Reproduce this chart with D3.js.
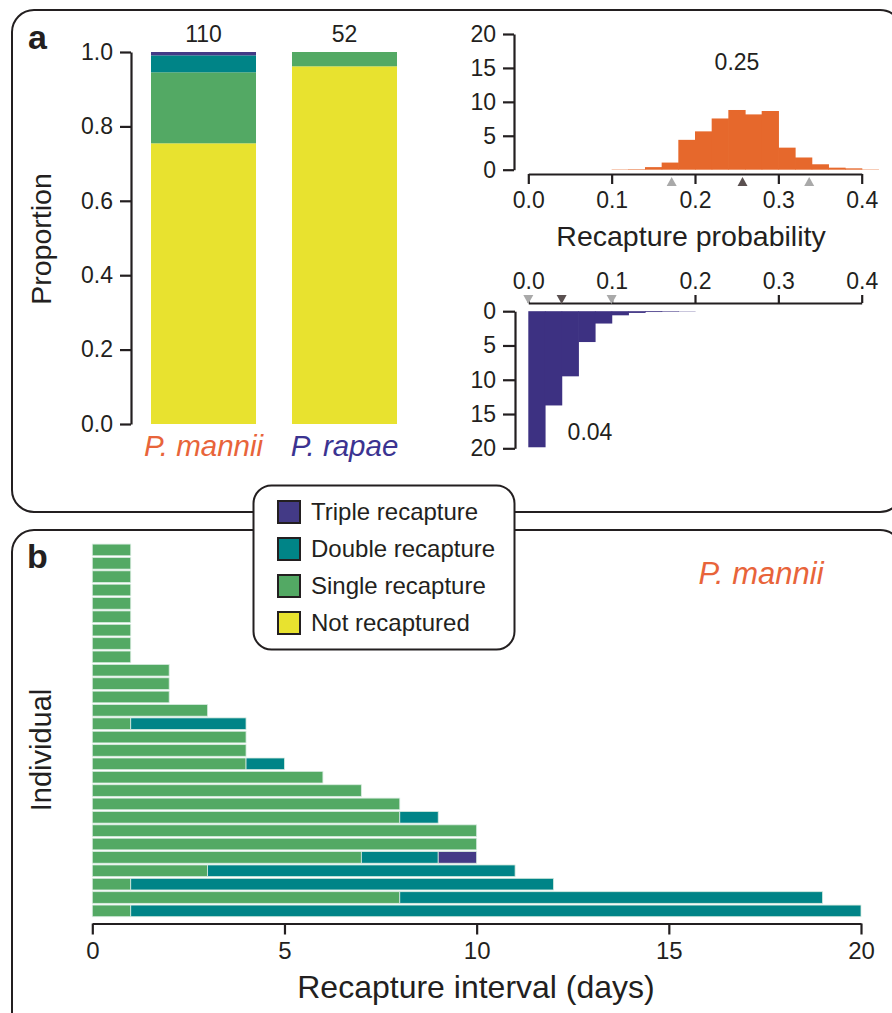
<!DOCTYPE html>
<html>
<head>
<meta charset="utf-8">
<script src="https://cdn.jsdelivr.net/npm/d3@7"></script>
<style>
  html, body { margin: 0; padding: 0; background: #fff; }
  svg text { font-family: "Liberation Sans", Arial, sans-serif; fill: #231f20; }
</style>
</head>
<body>
<svg id="chart" width="892" height="1013"></svg>
<script>
// ---------------- DATA ----------------
const species = ["P. mannii", "P. rapae"];
const speciesTotals = [110, 52];
const categories = ["Not recaptured", "Single recapture", "Double recapture", "Triple recapture"];
const countsMannii = [83, 21, 5, 1];
const countsRapae = [50, 2, 0, 0];
const propTicks = [0, 0.2, 0.4, 0.6, 0.8, 1.0];

// posterior histogram of recapture probability (P. mannii), bins of width 0.02
const binStartsMannii = [0.10, 0.12, 0.14, 0.16, 0.18, 0.20, 0.22, 0.24, 0.26, 0.28, 0.30, 0.32, 0.34, 0.36, 0.38, 0.40];
const freqMannii =      [0.05, 0.08, 0.38, 1.05, 4.4, 5.65, 7.55, 8.8, 8.15, 8.65, 3.25, 1.8, 0.8, 0.3, 0.2, 0.05];
const triMannii = [0.172, 0.257, 0.337]; // lower, median, upper
const medianMannii = "0.25";

// posterior histogram of recapture probability (P. rapae)
const binStartsRapae = [0.00, 0.02, 0.04, 0.06, 0.08, 0.10, 0.12, 0.14, 0.16, 0.18];
const freqRapae =      [19.85, 13.75, 9.5, 4.5, 1.8, 0.6, 0.25, 0.12, 0.08, 0.04];
const triRapae = [0.0, 0.04, 0.1];
const medianRapae = "0.04";
const probTicks = [0, 0.1, 0.2, 0.3, 0.4];
const freqTicks = [0, 5, 10, 15, 20];

// recapture intervals (days) per individual: 1st, 2nd, 3rd recapture (cumulative)
const firstRecap =  [1,1,1,1,1,1,1,1,1, 2,2,2, 3, 1, 4, 4, 4, 6, 7, 8, 8, 10, 10, 7, 3, 1, 8, 1];
const secondRecap = [null,null,null,null,null,null,null,null,null, null,null,null, null, 4, null, null, 5, null, null, null, 9, null, null, 9, 11, 12, 19, 20];
const thirdRecap =  [null,null,null,null,null,null,null,null,null, null,null,null, null, null, null, null, null, null, null, null, null, null, null, 10, null, null, null, null];
const dayTicks = [0, 5, 10, 15, 20];

// ---------------- STYLE ----------------
const colors = {
  "Not recaptured": "#e8e22f",
  "Single recapture": "#53a964",
  "Double recapture": "#008487",
  "Triple recapture": "#433a86"
};
const ink = "#231f20";
const orange = "#e6682c";
const blue = "#3d3182";

const svg = d3.select("#chart");

// panel frames
function roundedPanel(x, y, w, h, r) {
  svg.append("rect").attr("x", x).attr("y", y).attr("width", w).attr("height", h)
    .attr("rx", r).attr("ry", r).attr("fill", "none").attr("stroke", ink).attr("stroke-width", 2);
}
roundedPanel(12, 10, 890, 502, 22);
roundedPanel(12, 530, 890, 510, 22);

svg.append("text").attr("x", 28).attr("y", 49).attr("font-size", 34).attr("font-weight", "bold").text("a");
svg.append("text").attr("x", 27).attr("y", 568).attr("font-size", 34).attr("font-weight", "bold").text("b");

function styleAxis(g) {
  g.selectAll("path, line").attr("stroke", ink).attr("stroke-width", 2.2);
  g.selectAll("text").attr("fill", ink).attr("font-family", "Liberation Sans, Arial, sans-serif");
}

// ---------------- PANEL a: stacked proportions ----------------
const xSp = d3.scaleBand().domain(species).range([133, 415]).paddingInner(0.2553).paddingOuter(0.1277);
const yProp = d3.scaleLinear().domain([0, 1]).range([424, 52]);

const stackRows = species.map((s, i) => {
  const counts = i === 0 ? countsMannii : countsRapae;
  const row = { species: s };
  categories.forEach((c, j) => row[c] = counts[j] / speciesTotals[i]);
  return row;
});
const stacked = d3.stack().keys(categories)(stackRows);

svg.append("g").selectAll("g").data(stacked).join("g")
  .attr("fill", d => colors[d.key])
  .selectAll("rect").data(d => d).join("rect")
  .attr("x", d => xSp(d.data.species))
  .attr("width", xSp.bandwidth())
  .attr("y", d => yProp(d[1]))
  .attr("height", d => Math.max(0, yProp(d[0]) - yProp(d[1])));

const gyProp = svg.append("g").attr("transform", "translate(131,0)")
  .call(d3.axisLeft(yProp).tickValues(propTicks).tickFormat(d3.format(".1f")).tickSize(11).tickSizeOuter(0).tickPadding(7));
styleAxis(gyProp);
gyProp.selectAll("text").attr("font-size", 23);

svg.append("g").selectAll("text").data(species).join("text")
  .attr("x", d => xSp(d) + xSp.bandwidth() / 2).attr("y", 42)
  .attr("text-anchor", "middle").attr("font-size", 23)
  .text((d, i) => speciesTotals[i]);

svg.append("g").selectAll("text").data(species).join("text")
  .attr("x", d => xSp(d) + xSp.bandwidth() / 2).attr("y", 456)
  .attr("text-anchor", "middle").attr("font-size", 29.5).attr("font-style", "italic")
  .style("fill", (d, i) => i === 0 ? "#e8643a" : "#3b3391")
  .text(d => d);

svg.append("text").attr("transform", "translate(51,239) rotate(-90)")
  .attr("text-anchor", "middle").attr("font-size", 28.5).text("Proportion");

// ---------------- PANEL a: histogram P. mannii ----------------
const xProb = d3.scaleLinear().domain([0, 0.4]).range([528.3, 861.7]);
const yFreqTop = d3.scaleLinear().domain([0, 20]).range([169.7, 34]);

svg.append("g").selectAll("rect").data(binStartsMannii).join("rect")
  .attr("x", d => xProb(d)).attr("width", d => xProb(d + 0.02) - xProb(d) + 0.6)
  .attr("y", (d, i) => yFreqTop(freqMannii[i]))
  .attr("height", (d, i) => yFreqTop(0) - yFreqTop(freqMannii[i]))
  .attr("fill", orange);

const gxTop = svg.append("g").attr("transform", "translate(0,174)")
  .call(d3.axisBottom(xProb).tickValues(probTicks).tickFormat(d3.format(".1f")).tickSize(10).tickSizeOuter(0).tickPadding(8));
styleAxis(gxTop);
gxTop.selectAll("text").attr("font-size", 23);

const gyTop = svg.append("g").attr("transform", "translate(514,0)")
  .call(d3.axisLeft(yFreqTop).tickValues(freqTicks).tickSize(11).tickSizeOuter(0).tickPadding(7));
styleAxis(gyTop);
gyTop.selectAll("text").attr("font-size", 23);

svg.append("g").selectAll("path").data(triMannii).join("path")
  .attr("d", d => `M${xProb(d) - 5},186 L${xProb(d) + 5},186 L${xProb(d)},177 Z`)
  .attr("fill", (d, i) => i === 1 ? "#5a5050" : "#a9a9a9");

svg.append("text").attr("x", 737).attr("y", 70).attr("text-anchor", "middle").attr("font-size", 23).text(medianMannii);
svg.append("text").attr("x", 691).attr("y", 246).attr("text-anchor", "middle").attr("font-size", 28.5).text("Recapture probability");

// ---------------- PANEL a: histogram P. rapae (inverted) ----------------
const yFreqBot = d3.scaleLinear().domain([0, 20]).range([311.2, 448.3]);

svg.append("g").selectAll("rect").data(binStartsRapae).join("rect")
  .attr("x", d => xProb(d)).attr("width", d => xProb(d + 0.02) - xProb(d) + 0.6)
  .attr("y", yFreqBot(0))
  .attr("height", (d, i) => yFreqBot(freqRapae[i]) - yFreqBot(0))
  .attr("fill", blue);

const gxBot = svg.append("g").attr("transform", "translate(0,303)")
  .call(d3.axisTop(xProb).tickValues(probTicks).tickFormat(d3.format(".1f")).tickSize(8).tickSizeOuter(0).tickPadding(6));
styleAxis(gxBot);
gxBot.selectAll("text").attr("font-size", 23);

const gyBot = svg.append("g").attr("transform", "translate(515,0)")
  .call(d3.axisLeft(yFreqBot).tickValues(freqTicks).tickSize(12).tickSizeOuter(0).tickPadding(7));
styleAxis(gyBot);
gyBot.selectAll("text").attr("font-size", 23);

svg.append("g").selectAll("path").data(triRapae).join("path")
  .attr("d", d => `M${xProb(d) - 5},295 L${xProb(d) + 5},295 L${xProb(d)},304 Z`)
  .attr("fill", (d, i) => i === 1 ? "#5a5050" : "#a9a9a9");

svg.append("text").attr("x", 590).attr("y", 440).attr("text-anchor", "middle").attr("font-size", 23).text(medianRapae);

// ---------------- PANEL b: recapture intervals ----------------
const xDays = d3.scaleLinear().domain([0, 20]).range([92.3, 861]);
const yInd = d3.scaleBand().domain(d3.range(firstRecap.length)).range([543.3, 917.5]).paddingInner(0.13).paddingOuter(0.06);

const segs = [];
firstRecap.forEach((v, i) => {
  segs.push({ row: i, x0: 0, x1: v, key: "Single recapture" });
  if (secondRecap[i] != null) segs.push({ row: i, x0: v, x1: secondRecap[i], key: "Double recapture" });
  if (thirdRecap[i] != null) segs.push({ row: i, x0: secondRecap[i], x1: thirdRecap[i], key: "Triple recapture" });
});

svg.append("g").selectAll("rect").data(segs).join("rect")
  .attr("x", d => xDays(d.x0)).attr("width", d => xDays(d.x1) - xDays(d.x0))
  .attr("y", d => yInd(d.row)).attr("height", yInd.bandwidth())
  .attr("fill", d => colors[d.key])
  .attr("stroke", "#d8ebe0").attr("stroke-width", 0.8);

const gxDays = svg.append("g").attr("transform", "translate(0,923.5)")
  .call(d3.axisBottom(xDays).tickValues(dayTicks).tickFormat(d3.format("d")).tickSize(11).tickSizeOuter(0).tickPadding(7));
styleAxis(gxDays);
gxDays.selectAll("text").attr("font-size", 24);

svg.append("text").attr("x", 476).attr("y", 998).attr("text-anchor", "middle").attr("font-size", 32).text("Recapture interval (days)");
svg.append("text").attr("transform", "translate(51,750) rotate(-90)").attr("text-anchor", "middle").attr("font-size", 29).text("Individual");
svg.append("text").attr("x", 761).attr("y", 584).attr("text-anchor", "middle").attr("font-size", 31)
  .attr("font-style", "italic").style("fill", "#e8643a").text("P. mannii");

// ---------------- Legend ----------------
const legendKeys = ["Triple recapture", "Double recapture", "Single recapture", "Not recaptured"];
svg.append("rect").attr("x", 253.5).attr("y", 485.5).attr("width", 261).attr("height", 164)
  .attr("rx", 18).attr("ry", 18).attr("fill", "#fff").attr("stroke", ink).attr("stroke-width", 2);
const lg = svg.append("g").selectAll("g").data(legendKeys).join("g")
  .attr("transform", (d, i) => `translate(278,${501 + i * 37})`);
lg.append("rect").attr("width", 22).attr("height", 22).attr("fill", d => colors[d])
  .attr("stroke", ink).attr("stroke-width", 2);
lg.append("text").attr("x", 33).attr("y", 19).attr("font-size", 24).text(d => d);
</script>
</body>
</html>
